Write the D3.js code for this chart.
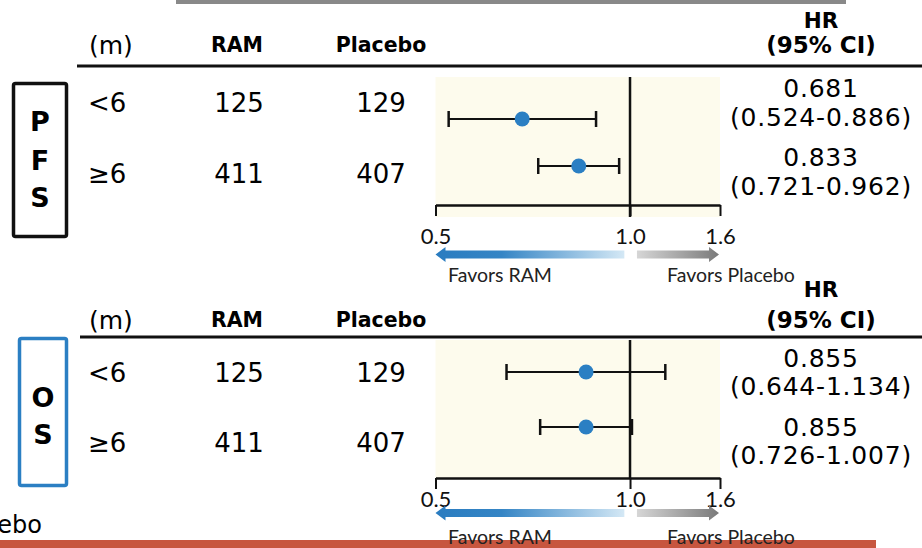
<!DOCTYPE html>
<html>
<head>
<meta charset="utf-8">
<script src="https://cdn.jsdelivr.net/npm/d3@7"></script>
<style>
  body { margin: 0; background: #fff; }
  svg { display: block; }
</style>
</head>
<body>
<svg id="canvas" width="922" height="548"></svg>
<script>
const width = 922;
const height = 548;

// data
const subgroups = ["<6", "≥6"];
const ramN = [125, 411];
const placeboN = [129, 407];

const pfsHR = [0.681, 0.833];
const pfsLow = [0.524, 0.721];
const pfsHigh = [0.886, 0.962];

const osHR = [0.855, 0.855];
const osLow = [0.644, 0.726];
const osHigh = [1.134, 1.007];

// axis end sits where the log scale reaches ~1.378, but is labelled 1.6 in the original
const tickValues = [0.5, 1.0, 1.378];
const tickLabels = ["0.5", "1.0", "1.6"];

const svg = d3.select("#canvas");

const blue = "#2b7fc3";
const bodyFont = "DejaVu Sans, Verdana, sans-serif";
const axisFont = "Lato, Carlito, sans-serif";

const x = d3.scaleLog()
    .domain([0.5, 1.378])
    .range([435.5, 720]);

// gradients for the arrows
const defs = svg.append("defs");
const gBlue = defs.append("linearGradient").attr("id", "gradBlue");
gBlue.append("stop").attr("offset", "0%").attr("stop-color", "#2a7cc0");
gBlue.append("stop").attr("offset", "35%").attr("stop-color", "#3585c5");
gBlue.append("stop").attr("offset", "100%").attr("stop-color", "#d4e8f5");
const gGray = defs.append("linearGradient").attr("id", "gradGray");
gGray.append("stop").attr("offset", "0%").attr("stop-color", "#d6d6d6");
gGray.append("stop").attr("offset", "100%").attr("stop-color", "#7a7a7a");

// top grey bar and bottom red bar
svg.append("rect").attr("x", 176).attr("y", 0).attr("width", 670).attr("height", 4).attr("fill", "#898989");
svg.append("rect").attr("x", 0).attr("y", 540).attr("width", 876).attr("height", 8).attr("fill", "#c7563f");

// text cut off by the left edge in the original slide
svg.append("text")
    .attr("x", 42).attr("y", 533)
    .attr("text-anchor", "end")
    .attr("font-family", bodyFont)
    .attr("font-size", 24)
    .text("Placebo");

function drawPanel(p){

    const g = svg.append("g");

    // side box with label letters
    g.append("rect")
        .attr("x", p.box[0]).attr("y", p.box[1])
        .attr("width", p.box[2]).attr("height", p.box[3])
        .attr("rx", 2)
        .attr("fill", "none")
        .attr("stroke", p.boxColor)
        .attr("stroke-width", 3.5);

    g.selectAll(".letter")
        .data(p.letters)
        .enter()
        .append("text")
        .attr("x", p.box[0] + p.box[2] / 2)
        .attr("y", (d, i) => p.letterY[i])
        .attr("dy", "0.36em")
        .attr("text-anchor", "middle")
        .attr("font-family", bodyFont)
        .attr("font-weight", "bold")
        .attr("font-size", 27)
        .text(d => d);

    // column headers
    const hy = p.headerY;
    g.append("text").attr("x", 89).attr("y", hy).attr("dy", "0.36em")
        .attr("font-family", bodyFont).attr("font-size", 25).text("(m)");
    g.append("text").attr("x", 237).attr("y", hy).attr("dy", "0.36em")
        .attr("text-anchor", "middle")
        .attr("font-family", bodyFont).attr("font-weight", "bold").attr("font-size", 20.5).text("RAM");
    g.append("text").attr("x", 381).attr("y", hy).attr("dy", "0.36em")
        .attr("text-anchor", "middle")
        .attr("font-family", bodyFont).attr("font-weight", "bold").attr("font-size", 20.5).text("Placebo");
    g.append("text").attr("x", 821).attr("y", p.hrY).attr("dy", "0.36em")
        .attr("text-anchor", "middle")
        .attr("font-family", bodyFont).attr("font-weight", "bold").attr("font-size", 21.5).text("HR");
    g.append("text").attr("x", 821).attr("y", hy).attr("dy", "0.36em")
        .attr("text-anchor", "middle")
        .attr("font-family", bodyFont).attr("font-weight", "bold").attr("font-size", 23).text("(95% CI)");

    g.append("line")
        .attr("x1", p.ruleX).attr("x2", 922)
        .attr("y1", p.ruleY).attr("y2", p.ruleY)
        .attr("stroke", "#111").attr("stroke-width", 3);

    // plot background
    g.append("rect")
        .attr("x", x(0.5)).attr("y", p.bg[0])
        .attr("width", x(tickValues[2]) - x(0.5))
        .attr("height", p.bg[1] - p.bg[0])
        .attr("fill", "#fdfbed");

    // table rows
    const rowY = d3.scalePoint().domain(subgroups).range(p.rowY);
    const rows = g.selectAll(".row")
        .data(subgroups)
        .enter()
        .append("g")
        .attr("transform", d => `translate(0,${rowY(d)})`);

    const cell = (sel, xx, anchor, fn) => sel.append("text")
        .attr("x", xx)
        .attr("dy", "0.36em")
        .attr("text-anchor", anchor)
        .attr("font-family", bodyFont)
        .attr("font-size", 26)
        .text(fn);

    cell(rows, 88, "start", d => d);
    cell(rows, 239, "middle", (d, i) => ramN[i]);
    cell(rows, 381, "middle", (d, i) => placeboN[i]);

    // HR text
    const hrRow = d3.scalePoint().domain(subgroups).range(p.hrRowY);
    subgroups.forEach((s, i) => {
        g.append("text")
            .attr("x", 821).attr("y", hrRow(s)).attr("dy", "0.36em")
            .attr("text-anchor", "middle")
            .attr("font-family", bodyFont).attr("font-size", 25)
            .attr("letter-spacing", 0.8)
            .text(p.hr[i].toFixed(3));
        g.append("text")
            .attr("x", 821).attr("y", hrRow(s) + p.hrGap).attr("dy", "0.36em")
            .attr("text-anchor", "middle")
            .attr("font-family", bodyFont).attr("font-size", 25)
            .attr("letter-spacing", 0.8)
            .text(`(${p.low[i].toFixed(3)}-${p.high[i].toFixed(3)})`);
    });

    // reference line at HR = 1
    g.append("line")
        .attr("x1", x(1)).attr("x2", x(1))
        .attr("y1", p.bg[0]).attr("y2", p.refEnd)
        .attr("stroke", "#111").attr("stroke-width", 2.5);

    // axis
    const axis = d3.axisBottom(x)
        .tickValues(tickValues)
        .tickFormat((d, i) => tickLabels[i])
        .tickSize(11)
        .tickSizeOuter(0);

    const ax = g.append("g")
        .attr("transform", `translate(0,${p.axisY})`)
        .call(axis);
    ax.select(".domain").attr("stroke", "#111").attr("stroke-width", 2.5);
    ax.selectAll(".tick line").attr("stroke", "#111").attr("stroke-width", 2);
    ax.selectAll(".tick text")
        .attr("y", p.tickLabelY - p.axisY)
        .attr("dy", "0.36em")
        .attr("font-family", axisFont)
        .attr("font-size", 22)
        .attr("fill", "#111");

    // error bars and points
    const pointY = d3.scalePoint().domain(subgroups).range(p.pointY);
    const est = subgroups.map((s, i) => ({ s: s, hr: p.hr[i], lo: p.low[i], hi: p.high[i] }));

    g.selectAll(".ci")
        .data(est).enter().append("line")
        .attr("x1", d => x(d.lo)).attr("x2", d => x(d.hi))
        .attr("y1", d => pointY(d.s)).attr("y2", d => pointY(d.s))
        .attr("stroke", "#111").attr("stroke-width", 2);

    ["lo", "hi"].forEach(k => {
        g.selectAll(".cap-" + k)
            .data(est).enter().append("line")
            .attr("x1", d => x(d[k])).attr("x2", d => x(d[k]))
            .attr("y1", d => pointY(d.s) - 8).attr("y2", d => pointY(d.s) + 8)
            .attr("stroke", "#111").attr("stroke-width", 2.5);
    });

    g.selectAll(".pt")
        .data(est).enter().append("circle")
        .attr("cx", d => x(d.hr))
        .attr("cy", d => pointY(d.s))
        .attr("r", 7.5)
        .attr("fill", blue);

    // favour arrows
    const ay = p.arrowY;
    const bx0 = x(0.5), bx1 = x(0.98);
    g.append("path")
        .attr("d", `M${bx0},${ay} L${bx0 + 10},${ay - 7.5} L${bx0 + 10},${ay - 4} L${bx1},${ay - 4} L${bx1},${ay + 4} L${bx0 + 10},${ay + 4} L${bx0 + 10},${ay + 7.5} Z`)
        .attr("fill", "url(#gradBlue)");
    const gx0 = x(1.025), gx1 = x(tickValues[2]) - 1;
    g.append("path")
        .attr("d", `M${gx1},${ay} L${gx1 - 10},${ay - 7.5} L${gx1 - 10},${ay - 4} L${gx0},${ay - 4} L${gx0},${ay + 4} L${gx1 - 10},${ay + 4} L${gx1 - 10},${ay + 7.5} Z`)
        .attr("fill", "url(#gradGray)");

    g.append("text").attr("x", 448).attr("y", p.favorY).attr("dy", "0.36em")
        .attr("font-family", axisFont).attr("font-size", 19.5).attr("fill", "#222").text("Favors RAM");
    g.append("text").attr("x", 667).attr("y", p.favorY).attr("dy", "0.36em")
        .attr("font-family", axisFont).attr("font-size", 19.5).attr("fill", "#222").text("Favors Placebo");
}

drawPanel({
    box: [13.5, 83.5, 53, 153], boxColor: "#111",
    letters: ["P", "F", "S"], letterY: [121, 160, 197],
    headerY: 45, hrY: 20, ruleX: 77, ruleY: 66,
    bg: [77, 217], refEnd: 217,
    rowY: [103, 174], pointY: [119, 166],
    hrRowY: [88, 157], hrGap: 29,
    hr: pfsHR, low: pfsLow, high: pfsHigh,
    axisY: 205, tickLabelY: 236, arrowY: 254.5, favorY: 275
});

drawPanel({
    box: [19.5, 338.5, 47, 147], boxColor: blue,
    letters: ["O", "S"], letterY: [397, 434],
    headerY: 320, hrY: 289, ruleX: 80, ruleY: 337,
    bg: [340, 478], refEnd: 478,
    rowY: [373, 443], pointY: [372, 427],
    hrRowY: [358, 427], hrGap: 28,
    hr: osHR, low: osLow, high: osHigh,
    axisY: 478, tickLabelY: 499, arrowY: 513, favorY: 537
});
</script>
</body>
</html>
